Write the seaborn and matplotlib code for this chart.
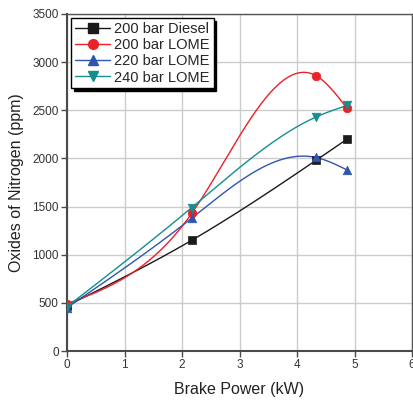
import numpy as np
import pandas as pd
import matplotlib
matplotlib.use("Agg")
import matplotlib.pyplot as plt
from matplotlib.lines import Line2D
import seaborn as sns

# data
brake_power = [0.0, 2.17, 4.33, 4.87]
diesel_200 = [470, 1150, 1980, 2200]
lome_200 = [490, 1430, 2860, 2520]
lome_220 = [450, 1380, 2010, 1880]
lome_240 = [460, 1490, 2430, 2550]

labels = ["200 bar Diesel", "200 bar LOME", "220 bar LOME", "240 bar LOME"]
series = [diesel_200, lome_200, lome_220, lome_240]
colors = ["#1a1a1a", "#ec2027", "#2f55b0", "#11908c"]
markers = ["s", "o", "^", "v"]


def natural_spline(x, y, xs):
    # natural cubic spline through the points (like the original's spline connector)
    x = np.asarray(x, float)
    y = np.asarray(y, float)
    n = len(x)
    h = np.diff(x)
    A = np.zeros((n, n))
    b = np.zeros(n)
    A[0, 0] = A[-1, -1] = 1
    for i in range(1, n - 1):
        A[i, i - 1] = h[i - 1]
        A[i, i] = 2 * (h[i - 1] + h[i])
        A[i, i + 1] = h[i]
        b[i] = 6 * ((y[i + 1] - y[i]) / h[i] - (y[i] - y[i - 1]) / h[i - 1])
    M = np.linalg.solve(A, b)
    idx = np.clip(np.searchsorted(x, xs) - 1, 0, n - 2)
    x0, x1 = x[idx], x[idx + 1]
    hh = x1 - x0
    t0, t1 = xs - x0, x1 - xs
    return (M[idx] * t1**3 / (6 * hh) + M[idx + 1] * t0**3 / (6 * hh)
            + (y[idx] / hh - M[idx] * hh / 6) * t1
            + (y[idx + 1] / hh - M[idx + 1] * hh / 6) * t0)


sns.set_style("white")
plt.rcParams["font.family"] = ["Liberation Sans", "DejaVu Sans"]

fig = plt.figure(figsize=(4.13, 4.03), dpi=100)
ax = fig.add_axes([67 / 413, 1 - 351 / 403, 345 / 413, 337 / 403])

xs = np.linspace(brake_power[0], brake_power[-1], 300)
handles = []
for lab, ys, c, m in zip(labels, series, colors, markers):
    curve = pd.DataFrame({"x": xs, "y": natural_spline(brake_power, ys, xs)})
    sns.lineplot(data=curve, x="x", y="y", color=c, lw=1.0, ax=ax, zorder=3)
    pts = pd.DataFrame({"x": brake_power, "y": ys})
    sns.scatterplot(data=pts, x="x", y="y", color=c, marker=m, s=38,
                    edgecolor=c, linewidth=0.5, ax=ax, zorder=4)
    handles.append(Line2D([], [], color=c, marker=m, markersize=7, lw=1.0,
                          label=lab))

ax.set_xlim(0, 6)
ax.set_ylim(0, 3500)
ax.set_xticks(range(0, 7))
ax.set_yticks(range(0, 3501, 500))
ax.grid(True, color="#cccccc", lw=1.0)
ax.set_axisbelow(True)

for s in ["top", "right"]:
    ax.spines[s].set_color("#555555")
    ax.spines[s].set_linewidth(1.0)
for s in ["left", "bottom"]:
    ax.spines[s].set_color("#4a4a4a")
    ax.spines[s].set_linewidth(1.5)

ax.tick_params(axis="both", direction="out", length=4, width=1,
               color="#4a4a4a", labelsize=8.5, labelcolor="#333333",
               left=True, bottom=True, pad=2)

ax.set_xlabel("Brake Power (kW)", fontsize=11.5, color="#222222", labelpad=8)
ax.set_ylabel("Oxides of Nitrogen (ppm)", fontsize=11.5, color="#222222",
              labelpad=6)

leg = ax.legend(handles=handles, loc="upper left", fontsize=10.5,
                frameon=True, fancybox=False, shadow={"color": "black", "alpha": 1},
                borderpad=0.25, labelspacing=0.15, handlelength=2.4,
                handletextpad=0.3, borderaxespad=0.3)
leg.get_frame().set_edgecolor("black")
leg.get_frame().set_linewidth(1.0)

fig.savefig("out.png", dpi=100)
